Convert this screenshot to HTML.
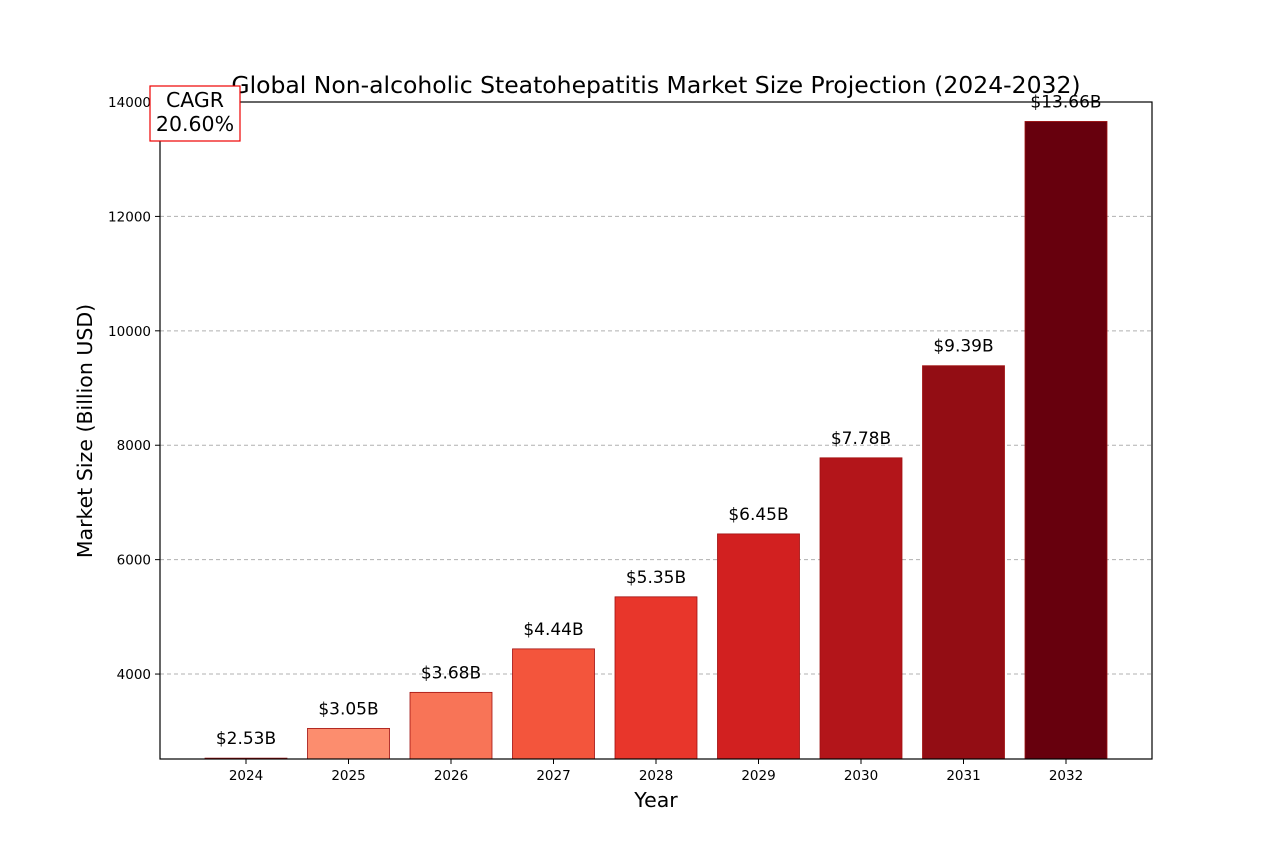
<!DOCTYPE html>
<html><head><meta charset="utf-8"><style>
body{margin:0;background:#fff;font-family:"Liberation Sans","DejaVu Sans",sans-serif}
</style></head><body>
<svg width="1280" height="853" xmlns="http://www.w3.org/2000/svg" font-family="DejaVu Sans, Liberation Sans, sans-serif">
<rect width="1280" height="853" fill="#fff"/>
<g id="grid"></g>
<g id="bars"></g>
<g id="labels"></g>
<rect x="160" y="102" width="992" height="657" fill="none" stroke="#000" stroke-width="1.2"/>
<g id="xt"></g><g id="yt"></g>
<text x="656" y="93" text-anchor="middle" font-size="23.5">Global Non-alcoholic Steatohepatitis Market Size Projection (2024-2032)</text>
<text x="656" y="807" text-anchor="middle" font-size="20.5">Year</text>
<text transform="translate(92,431) rotate(-90)" text-anchor="middle" font-size="20.5">Market Size (Billion USD)</text>
<g>
<rect x="150" y="86" width="90" height="55" fill="#fff" stroke="#e00" stroke-width="1.2"/>
<text x="195" y="107" text-anchor="middle" font-size="20.5">CAGR</text>
<text x="195" y="131" text-anchor="middle" font-size="20.5">20.60%</text>
</g>
</svg>
<script>
const years=["2024","2025","2026","2027","2028","2029","2030","2031","2032"];
const values=[2530,3050,3680,4440,5350,6450,7780,9390,13660];
const valueLabels=["$2.53B","$3.05B","$3.68B","$4.44B","$5.35B","$6.45B","$7.78B","$9.39B","$13.66B"];
const colors=["#fee0d2","#fc8d6e","#f87457","#f3553c","#e8362b","#d22020","#b3151a","#930d14","#67000d"];
const yTicks=[4000,6000,8000,10000,12000,14000];
const NS="http://www.w3.org/2000/svg";
const yMin=2515,yMax=14000,pTop=102,pBot=759,pLeft=160,pRight=1152;
const yS=v=>pBot-(v-yMin)/(yMax-yMin)*(pBot-pTop);
const xS=i=>246+i*102.5;
function mk(t,a,p){const e=document.createElementNS(NS,t);for(const k in a)e.setAttribute(k,a[k]);document.getElementById(p).appendChild(e);return e;}
yTicks.forEach(t=>{
 const g=mk("line",{x1:pLeft,x2:pRight,y1:yS(t),y2:yS(t),stroke:"#b0b0b0","stroke-dasharray":"4,3","stroke-width":1},"grid");
 
 
 mk("line",{x1:pLeft-5,x2:pLeft,y1:yS(t),y2:yS(t),stroke:"#000"},"yt");
 const l=mk("text",{x:pLeft-9,y:yS(t)+5,"text-anchor":"end","font-size":13.5},"yt");l.textContent=t;
 
 
});
years.forEach((yr,i)=>{
 const cx=xS(i),w=82;
 const b=mk("rect",{x:cx-w/2,y:yS(values[i]),width:w,height:Math.max(0,pBot-yS(values[i])),fill:colors[i],stroke:"#a01010","stroke-width":0.8},"bars");
 
 
 const t=mk("text",{x:cx,y:yS(values[i])-14,"text-anchor":"middle","font-size":17},"labels");t.textContent=valueLabels[i];
 
 
 mk("line",{x1:cx,x2:cx,y1:pBot,y2:pBot+5,stroke:"#000"},"xt");
 const xl=mk("text",{x:cx,y:pBot+21,"text-anchor":"middle","font-size":13.5},"xt");xl.textContent=yr;
 
 
});
</script>
</body></html>
